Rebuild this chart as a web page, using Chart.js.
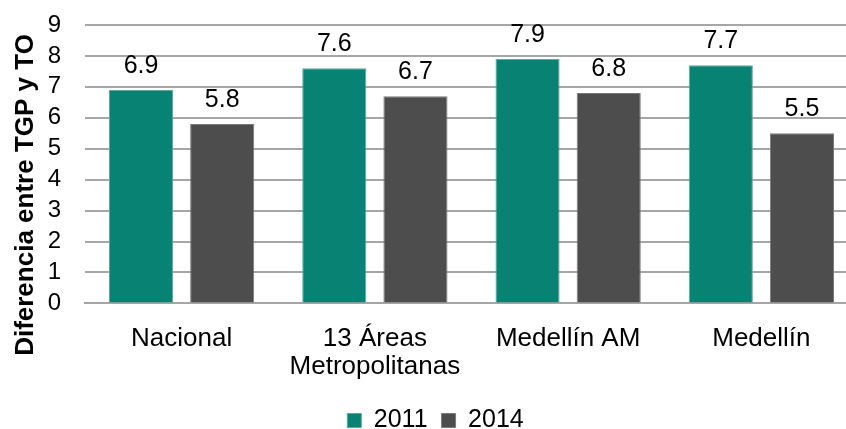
<!DOCTYPE html>
<html>
<head>
<meta charset="utf-8">
<script src="https://cdn.jsdelivr.net/npm/chart.js@4"></script>
<style>
  html, body { margin: 0; padding: 0; background: #fff; overflow: hidden; }
  #wrap { width: 846px; height: 429px; overflow: hidden; }
</style>
</head>
<body>
<div id="wrap"><canvas id="chart" width="860" height="445"></canvas></div>
<script>
const categories = ["Nacional", ["13 Áreas", "Metropolitanas"], "Medellín AM", "Medellín"];
const years = ["2011", "2014"];
const values2011 = [6.9, 7.6, 7.9, 7.7];
const values2014 = [5.8, 6.7, 6.8, 5.5];
const yTicks = [0, 1, 2, 3, 4, 5, 6, 7, 8, 9];
const yTitle = "Diferencia entre TGP y TO";

const font = "'Liberation Sans', Arial, sans-serif";

// value labels above each bar
const valueLabels = {
  id: "valueLabels",
  afterDatasetsDraw(chart) {
    const ctx = chart.ctx;
    ctx.save();
    ctx.font = "25px " + font;
    ctx.fillStyle = "#000";
    ctx.textAlign = "center";
    ctx.textBaseline = "alphabetic";
    chart.data.datasets.forEach((ds, i) => {
      chart.getDatasetMeta(i).data.forEach((bar, j) => {
        ctx.fillText(ds.data[j].toFixed(1), bar.x, bar.y - 17);
      });
    });
    ctx.restore();
  },
};

// y title sits lower than the plot centre in the original, so draw it here
const sideTitle = {
  id: "sideTitle",
  afterDraw(chart) {
    const ctx = chart.ctx;
    ctx.save();
    ctx.translate(33, 195);
    ctx.rotate(-Math.PI / 2);
    ctx.font = "bold 26px " + font;
    ctx.fillStyle = "#000";
    ctx.textAlign = "center";
    ctx.textBaseline = "alphabetic";
    ctx.fillText(yTitle, 0, 0);
    ctx.restore();
  },
};

new Chart(document.getElementById("chart"), {
  type: "bar",
  data: {
    labels: categories,
    datasets: [
      {
        label: years[0],
        data: values2011,
        backgroundColor: "#078273",
        borderColor: "#5fa99d",
        borderWidth: 1,
        categoryPercentage: 0.84,
        barPercentage: 0.79,
      },
      {
        label: years[1],
        data: values2014,
        backgroundColor: "#4d4d4d",
        borderColor: "#7a7a7a",
        borderWidth: 1,
        categoryPercentage: 0.84,
        barPercentage: 0.79,
      },
    ],
  },
  options: {
    responsive: false,
    animation: false,
    layout: { padding: { top: 0, left: 13, right: 2, bottom: 2 } },
    plugins: {
      tooltip: { enabled: false },
      legend: {
        position: "bottom",
        labels: {
          boxWidth: 14,
          boxHeight: 14,
          padding: 14,
          color: "#000",
          font: { family: font, size: 25 },
        },
      },
    },
    scales: {
      x: {
        grid: { display: false },
        border: { color: "#a6a6a6", width: 2 },
        ticks: {
          color: "#000",
          font: { family: font, size: 26, lineHeight: 1.05 },
          maxRotation: 0,
          padding: 14,
        },
      },
      y: {
        min: 0,
        max: 9,
        afterBuildTicks(axis) {
          axis.ticks = yTicks.map((v) => ({ value: v }));
        },
        afterFit(axis) {
          axis.width = 72;
          axis.paddingTop = 25;
          axis.paddingBottom = 0;
        },
        grid: { color: "#a6a6a6", lineWidth: 2, drawTicks: false },
        border: { display: false },
        ticks: { color: "#000", font: { family: font, size: 24 }, padding: 24, autoSkip: false },
      },
    },
  },
  plugins: [valueLabels, sideTitle],
});
</script>
</body>
</html>
